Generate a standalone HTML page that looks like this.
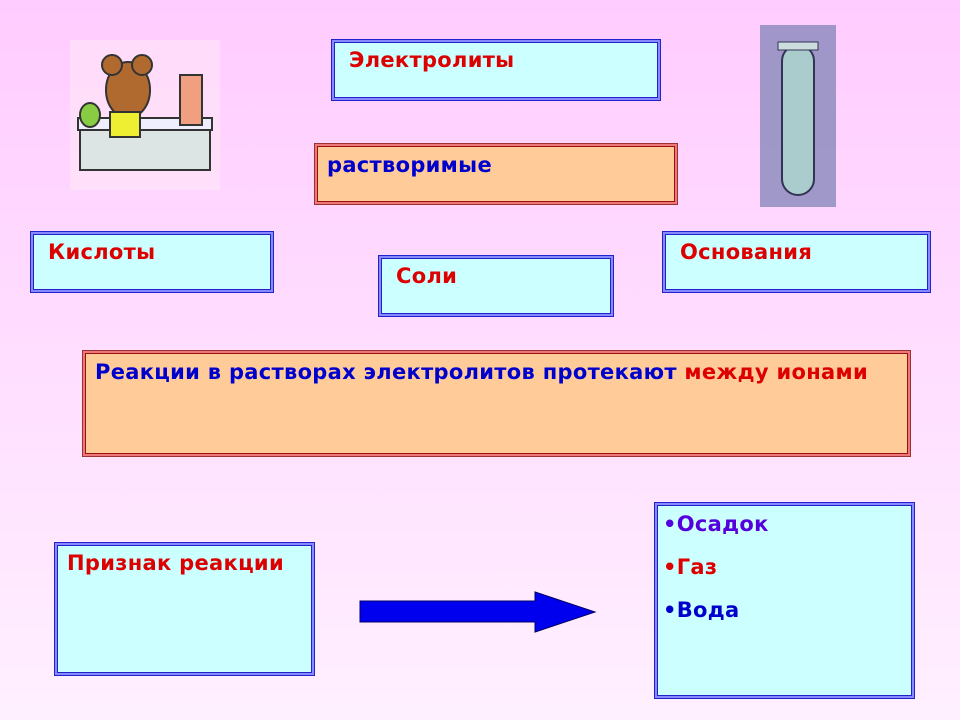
<!DOCTYPE html>
<html><head><meta charset="utf-8"><style>
body{margin:0;width:960px;height:720px;overflow:hidden;position:relative;background:linear-gradient(#ffccff,#fff0ff);font-family:"DejaVu Sans","Liberation Sans",sans-serif;font-weight:bold;font-size:21px;letter-spacing:0.3px}
.b{position:absolute;box-sizing:border-box;background:#ccffff;border:1px solid #2222cc;box-shadow:inset 0 0 0 2px #8888ff,inset 0 0 0 3px #2222cc}
.o{background:#ffcc99;border:1px solid #993333;box-shadow:inset 0 0 0 2px #ee7777,inset 0 0 0 3px #991111}
.b span{position:absolute;white-space:nowrap}
.r{color:#dd0000}.bl{color:#0000cc}.v{color:#5500dd}
</style></head><body>
<div class="b" style="left:331px;top:39px;width:330px;height:62px"><span class="r" style="left:17px;top:8px">Электролиты</span></div>
<div class="b o" style="left:314px;top:143px;width:364px;height:62px"><span class="bl" style="left:12px;top:9px">растворимые</span></div>
<div class="b" style="left:30px;top:231px;width:244px;height:62px"><span class="r" style="left:17px;top:8px">Кислоты</span></div>
<div class="b" style="left:378px;top:255px;width:236px;height:62px"><span class="r" style="left:17px;top:8px">Соли</span></div>
<div class="b" style="left:662px;top:231px;width:269px;height:62px"><span class="r" style="left:17px;top:8px">Основания</span></div>
<div class="b o" style="left:82px;top:350px;width:829px;height:107px"><span class="bl" style="left:12px;top:9px">Реакции в растворах электролитов протекают <span class="r" style="position:static">между ионами</span></span></div>
<div class="b" style="left:54px;top:542px;width:261px;height:134px"><span class="r" style="left:12px;top:8px">Признак реакции</span></div>
<div class="b" style="left:654px;top:502px;width:261px;height:197px">
<span class="v" style="left:8px;top:9px">•Осадок</span>
<span class="r" style="left:8px;top:52px">•Газ</span>
<span class="bl" style="left:8px;top:95px">•Вода</span></div>
<svg style="position:absolute;left:0;top:0" width="960" height="720">
<polygon points="360,601 535,601 535,592 595,612 535,632 535,622 360,622" fill="#0000ee" stroke="#000066" stroke-width="1"/>
<g>
<rect x="70" y="40" width="150" height="150" fill="#ffe6f6" opacity="0.6"/>
<rect x="80" y="125" width="130" height="45" fill="#dde4e4" stroke="#333" stroke-width="2"/>
<rect x="78" y="118" width="134" height="12" fill="#eef" stroke="#333" stroke-width="2"/>
<ellipse cx="128" cy="90" rx="22" ry="28" fill="#b06a30" stroke="#333" stroke-width="2"/>
<circle cx="112" cy="65" r="10" fill="#b06a30" stroke="#333" stroke-width="2"/>
<circle cx="142" cy="65" r="10" fill="#b06a30" stroke="#333" stroke-width="2"/>
<rect x="180" y="75" width="22" height="50" fill="#f0a080" stroke="#333" stroke-width="2"/>
<ellipse cx="90" cy="115" rx="10" ry="12" fill="#8c4" stroke="#333" stroke-width="2"/>
<rect x="110" y="112" width="30" height="25" fill="#ee3" stroke="#333" stroke-width="2"/>
</g>
<g>
<rect x="760" y="25" width="76" height="182" fill="#8888bb" opacity="0.8"/>
<rect x="782" y="45" width="32" height="150" rx="16" fill="#aacccc" stroke="#335" stroke-width="2"/>
<rect x="778" y="42" width="40" height="8" fill="#ccdddd" stroke="#335" stroke-width="1"/>
</g>
</svg>
</body></html>
